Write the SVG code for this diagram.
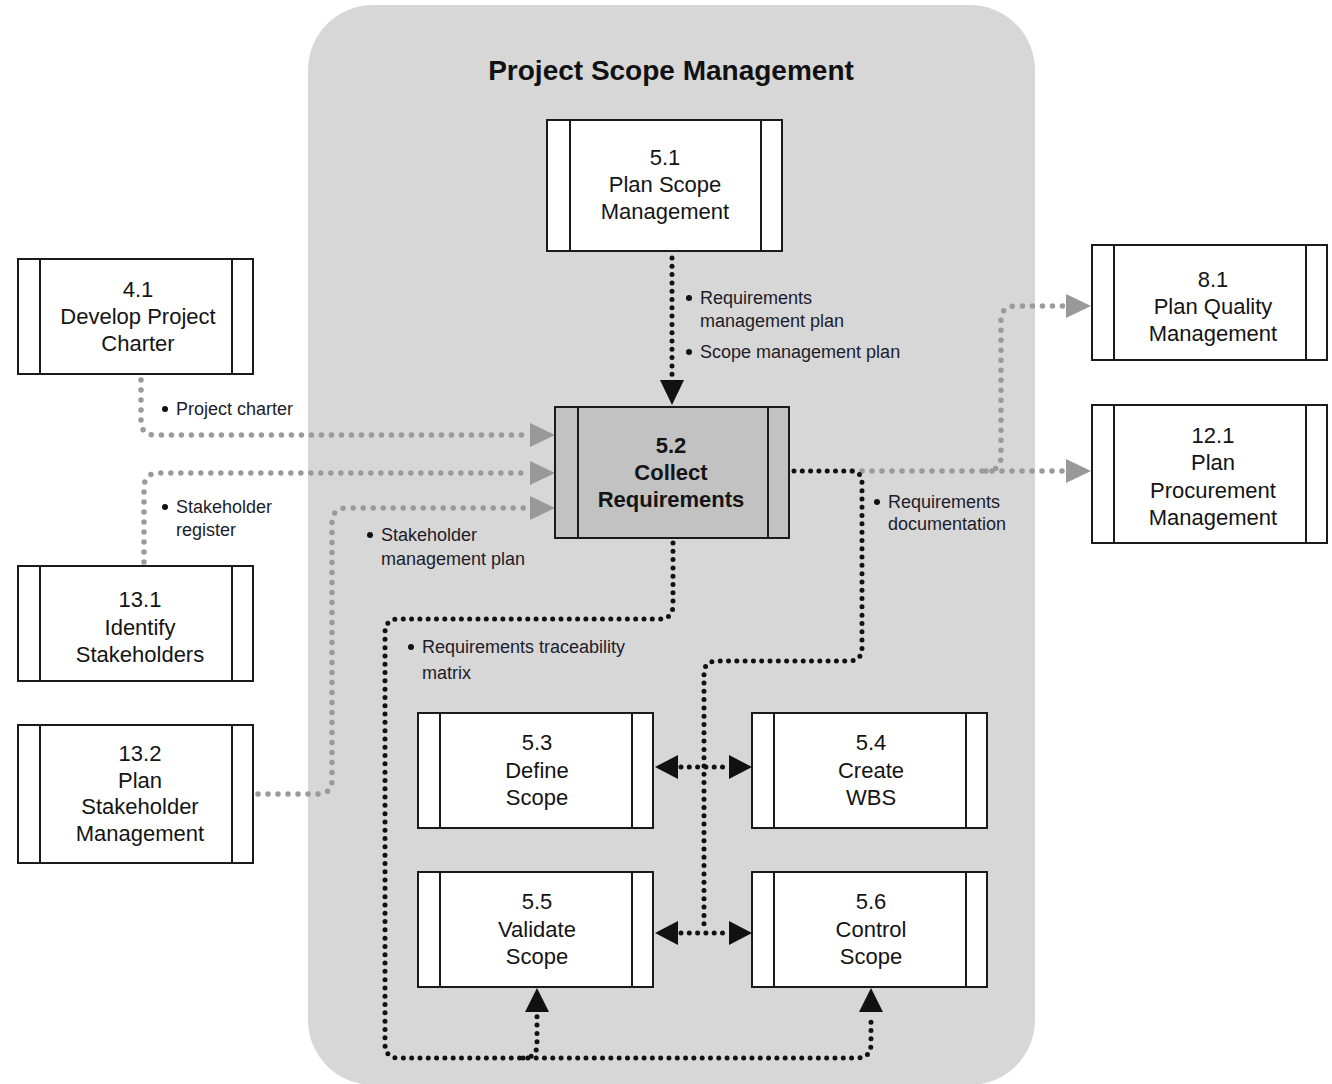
<svg xmlns="http://www.w3.org/2000/svg" width="1332" height="1084" viewBox="0 0 1332 1084">
  <style>
    .panel { fill: #d7d7d7; }
    .box { fill: #ffffff; stroke: #1a1a1a; stroke-width: 2; }
    .box.hl { fill: #c2c2c2; }
    .bar { stroke: #1a1a1a; stroke-width: 2; }
    .nt { font-family: "Liberation Sans", Arial, sans-serif; font-size: 22px; fill: #141414; text-anchor: middle; }
    .nt.b { font-weight: bold; }
    .title { font-family: "Liberation Sans", Arial, sans-serif; font-size: 28px; font-weight: bold; fill: #111; text-anchor: middle; }
    .lbl { font-family: "Liberation Sans", Arial, sans-serif; font-size: 18px; fill: #1c1c2a; }
    .bul { fill: #111; }
    .dk { fill: none; stroke: #111; stroke-width: 5; stroke-linecap: round; stroke-dasharray: 0 8.3; }
    .gy { fill: none; stroke: #9a9a9a; stroke-width: 5.5; stroke-linecap: round; stroke-dasharray: 0 10; }
    .ahd { fill: #111; }
    .ahg { fill: #999999; }
  </style>

  <!-- knowledge area panel -->
  <rect class="panel" x="308" y="5" width="727" height="1080" rx="65" ry="65"/>
  <text class="title" x="671" y="80">Project Scope Management</text>

  <!-- connectors -->
  <g id="connectors">
    <!-- 5.1 -> 5.2 -->
    <path class="dk" d="M672,258 V378"/>
    <polygon class="ahd" points="660,380 684,380 672,405"/>

    <!-- 4.1 -> 5.2 -->
    <path class="gy" d="M141,380 V421 Q141,435 155,435 H528"/>
    <polygon class="ahg" points="530,423 530,447 555,435"/>

    <!-- 13.1 -> 5.2 -->
    <path class="gy" d="M144,562 V488 Q144,473 159,473 H528"/>
    <polygon class="ahg" points="530,461 530,485 555,473"/>

    <!-- 13.2 -> 5.2 -->
    <path class="gy" d="M258,794 H318 Q332,794 332,780 V523 Q332,508 347,508 H528"/>
    <polygon class="ahg" points="530,496 530,520 555,508"/>

    <!-- 5.2 -> 8.1 / 12.1 -->
    <path class="gy" d="M852,471 H1064"/>
    <path class="gy" d="M986,471 Q1001,471 1001,456 V320 Q1001,306 1016,306 H1064"/>
    <polygon class="ahg" points="1066,459 1066,483 1091,471"/>
    <polygon class="ahg" points="1066,294 1066,318 1091,306"/>

    <!-- 5.2 -> 5.3 .. 5.6 (requirements documentation) -->
    <path class="dk" d="M794,471 H850 Q862,471 862,483 V648 Q862,661 849,661 H717 Q704,661 704,674 V930"/>

    <!-- 5.3 <-> 5.4 -->
    <path class="dk" d="M681,767 H726"/>
    <polygon class="ahd" points="678,755 678,779 655,767"/>
    <polygon class="ahd" points="729,755 729,779 752,767"/>

    <!-- 5.5 <-> 5.6 -->
    <path class="dk" d="M681,933 H726"/>
    <polygon class="ahd" points="678,921 678,945 655,933"/>
    <polygon class="ahd" points="729,921 729,945 752,933"/>

    <!-- 5.2 -> 5.5 / 5.6 (traceability matrix) -->
    <path class="dk" d="M673,543 V605 Q673,619 659,619 H399 Q385,619 385,633 V1044 Q385,1058 399,1058 H857 Q871,1058 871,1044 V1014"/>
    <path class="dk" d="M523,1058 Q537,1058 537,1044 V1014"/>
    <polygon class="ahd" points="525,1012 549,1012 537,988"/>
    <polygon class="ahd" points="859,1012 883,1012 871,988"/>
  </g>

  <!-- connector labels -->
  <g id="labels">
    <circle class="bul" cx="689" cy="298" r="3"/>
    <text class="lbl" x="700" y="304">Requirements</text>
    <text class="lbl" x="700" y="327">management plan</text>
    <circle class="bul" cx="689" cy="352" r="3"/>
    <text class="lbl" x="700" y="358">Scope management plan</text>

    <circle class="bul" cx="165" cy="409" r="3"/>
    <text class="lbl" x="176" y="415">Project charter</text>

    <circle class="bul" cx="165" cy="507" r="3"/>
    <text class="lbl" x="176" y="513">Stakeholder</text>
    <text class="lbl" x="176" y="536">register</text>

    <circle class="bul" cx="370" cy="535" r="3"/>
    <text class="lbl" x="381" y="541">Stakeholder</text>
    <text class="lbl" x="381" y="565">management plan</text>

    <circle class="bul" cx="877" cy="502" r="3"/>
    <text class="lbl" x="888" y="508">Requirements</text>
    <text class="lbl" x="888" y="530">documentation</text>

    <circle class="bul" cx="411" cy="647" r="3"/>
    <text class="lbl" x="422" y="653">Requirements traceability</text>
    <text class="lbl" x="422" y="679">matrix</text>
  </g>

  <!-- process nodes -->
  <g id="p5-1">
    <rect class="box" x="547" y="120" width="235" height="131"/>
    <line class="bar" x1="570" y1="120" x2="570" y2="251"/>
    <line class="bar" x1="761" y1="120" x2="761" y2="251"/>
    <text class="nt" x="665" y="165">5.1</text>
    <text class="nt" x="665" y="192">Plan Scope</text>
    <text class="nt" x="665" y="219">Management</text>
  </g>

  <g id="p4-1">
    <rect class="box" x="18" y="259" width="235" height="115"/>
    <line class="bar" x1="40" y1="259" x2="40" y2="374"/>
    <line class="bar" x1="232" y1="259" x2="232" y2="374"/>
    <text class="nt" x="138" y="297">4.1</text>
    <text class="nt" x="138" y="324">Develop Project</text>
    <text class="nt" x="138" y="351">Charter</text>
  </g>

  <g id="p5-2">
    <rect class="box hl" x="555" y="407" width="234" height="131"/>
    <line class="bar" x1="578" y1="407" x2="578" y2="538"/>
    <line class="bar" x1="768" y1="407" x2="768" y2="538"/>
    <text class="nt b" x="671" y="453">5.2</text>
    <text class="nt b" x="671" y="480">Collect</text>
    <text class="nt b" x="671" y="507">Requirements</text>
  </g>

  <g id="p8-1">
    <rect class="box" x="1092" y="245" width="235" height="115"/>
    <line class="bar" x1="1114" y1="245" x2="1114" y2="360"/>
    <line class="bar" x1="1306" y1="245" x2="1306" y2="360"/>
    <text class="nt" x="1213" y="287">8.1</text>
    <text class="nt" x="1213" y="314">Plan Quality</text>
    <text class="nt" x="1213" y="341">Management</text>
  </g>

  <g id="p12-1">
    <rect class="box" x="1092" y="405" width="235" height="138"/>
    <line class="bar" x1="1114" y1="405" x2="1114" y2="543"/>
    <line class="bar" x1="1306" y1="405" x2="1306" y2="543"/>
    <text class="nt" x="1213" y="443">12.1</text>
    <text class="nt" x="1213" y="470">Plan</text>
    <text class="nt" x="1213" y="498">Procurement</text>
    <text class="nt" x="1213" y="525">Management</text>
  </g>

  <g id="p13-1">
    <rect class="box" x="18" y="566" width="235" height="115"/>
    <line class="bar" x1="40" y1="566" x2="40" y2="681"/>
    <line class="bar" x1="232" y1="566" x2="232" y2="681"/>
    <text class="nt" x="140" y="607">13.1</text>
    <text class="nt" x="140" y="635">Identify</text>
    <text class="nt" x="140" y="662">Stakeholders</text>
  </g>

  <g id="p13-2">
    <rect class="box" x="18" y="725" width="235" height="138"/>
    <line class="bar" x1="40" y1="725" x2="40" y2="863"/>
    <line class="bar" x1="232" y1="725" x2="232" y2="863"/>
    <text class="nt" x="140" y="761">13.2</text>
    <text class="nt" x="140" y="788">Plan</text>
    <text class="nt" x="140" y="814">Stakeholder</text>
    <text class="nt" x="140" y="841">Management</text>
  </g>

  <g id="p5-3">
    <rect class="box" x="418" y="713" width="235" height="115"/>
    <line class="bar" x1="440" y1="713" x2="440" y2="828"/>
    <line class="bar" x1="632" y1="713" x2="632" y2="828"/>
    <text class="nt" x="537" y="750">5.3</text>
    <text class="nt" x="537" y="778">Define</text>
    <text class="nt" x="537" y="805">Scope</text>
  </g>

  <g id="p5-4">
    <rect class="box" x="752" y="713" width="235" height="115"/>
    <line class="bar" x1="774" y1="713" x2="774" y2="828"/>
    <line class="bar" x1="966" y1="713" x2="966" y2="828"/>
    <text class="nt" x="871" y="750">5.4</text>
    <text class="nt" x="871" y="778">Create</text>
    <text class="nt" x="871" y="805">WBS</text>
  </g>

  <g id="p5-5">
    <rect class="box" x="418" y="872" width="235" height="115"/>
    <line class="bar" x1="440" y1="872" x2="440" y2="987"/>
    <line class="bar" x1="632" y1="872" x2="632" y2="987"/>
    <text class="nt" x="537" y="909">5.5</text>
    <text class="nt" x="537" y="937">Validate</text>
    <text class="nt" x="537" y="964">Scope</text>
  </g>

  <g id="p5-6">
    <rect class="box" x="752" y="872" width="235" height="115"/>
    <line class="bar" x1="774" y1="872" x2="774" y2="987"/>
    <line class="bar" x1="966" y1="872" x2="966" y2="987"/>
    <text class="nt" x="871" y="909">5.6</text>
    <text class="nt" x="871" y="937">Control</text>
    <text class="nt" x="871" y="964">Scope</text>
  </g>
</svg>
